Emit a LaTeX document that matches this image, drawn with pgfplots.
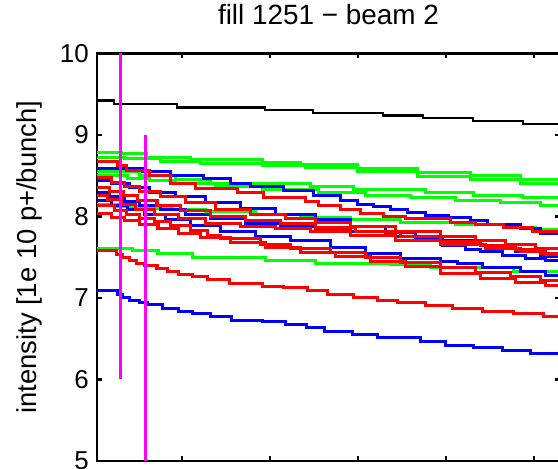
\documentclass[border=0pt]{standalone}
\usepackage{pgfplots}
\pgfplotsset{compat=1.18}
\usepackage{fontspec}
\setmainfont{Liberation Sans}
\definecolor{gG}{RGB}{0,255,0}
\definecolor{bB}{RGB}{0,0,255}
\definecolor{rR}{RGB}{255,0,0}
\definecolor{mM}{RGB}{255,0,255}
\begin{document}
\begin{tikzpicture}
\begin{axis}[
  scale only axis,
  width=463bp, height=407.5bp,
  xmin=97, xmax=560, ymin=5, ymax=10,
  xtick={182.3,270.3,358.3,446.3,534.3},
  xticklabels={},
  ytick={5,6,7,8,9,10},
  tick align=inside,
  major tick length=5bp,
  every tick/.style={black, line width=2.2bp},
  axis line style={line width=2.2bp},
  /pgf/number format/assume math mode=true,
  yticklabel style={font=\fontsize{26}{30}\selectfont, inner sep=0pt, xshift=-8bp},
  title={fill 1251 − beam 2},
  title style={font=\fontsize{28}{32}\selectfont, at={(axis description cs:0.5,1.0577)}, anchor=base, inner sep=0pt},
  ylabel={intensity [1e 10 p+/bunch]},
  ylabel style={font=\fontsize{27.5}{32}\selectfont, at={(axis description cs:-0.1296,0.5)}, anchor=base, inner sep=0pt},
  every axis plot/.append style={line width=3bp, const plot},
]
% black
\addplot[black, line width=2.6bp] coordinates {(97,9.421)(114,9.380)(177,9.337)(265,9.307)(313,9.270)(383,9.242)(423,9.209)(473,9.172)(523,9.135)(560,9.135)};
% greens
\addplot[gG] coordinates {(97,8.785)(122,8.77)(147,8.73)(190,8.70)(262,8.665)(300,8.644)(357,8.595)(417,8.534)(470,8.497)(520,8.454)(560,8.454)};
\addplot[gG] coordinates {(97,8.725)(125,8.71)(160,8.68)(200,8.655)(262,8.625)(305,8.60)(357,8.546)(417,8.485)(470,8.448)(520,8.405)(560,8.405)};
\addplot[gG] coordinates {(97,8.546)(140,8.497)(175,8.448)(210,8.411)(310,8.374)(353,8.331)(425,8.294)(473,8.258)(522,8.227)(560,8.227)};
\addplot[gG] coordinates {(97,8.50)(128,8.47)(150,8.44)(175,8.41)(215,8.37)(262,8.33)(318,8.29)(365,8.26)(410,8.23)(455,8.20)(500,8.17)(540,8.13)(560,8.13)};
\addplot[gG] coordinates {(97,8.15)(118,8.12)(140,8.10)(172,8.08)(205,8.06)(255,8.03)(300,7.99)(350,7.96)(400,7.93)(455,7.90)(505,7.87)(535,7.84)(560,7.84)};
\addplot[gG] coordinates {(97,7.607)(133,7.577)(158,7.540)(192,7.503)(265,7.466)(315,7.423)(390,7.405)(430,7.37)(513,7.331)(560,7.331)};
% blues
\addplot[bB] coordinates {(97,8.595)(143,8.558)(170,8.509)(203,8.472)(230,8.411)(250,8.374)(283,8.313)(313,8.252)(340,8.202)(357,8.153)(373,8.117)(390,8.080)(407,8.055)(425,8.012)(448,7.982)(470,7.951)(487,7.896)(520,7.847)(540,7.79)(560,7.79)};
\addplot[bB] coordinates {(97,8.44)(112,8.40)(130,8.35)(150,8.30)(175,8.24)(205,8.17)(240,8.10)(275,8.03)(315,7.96)(350,7.88)(385,7.80)(415,7.72)(442,7.65)(465,7.60)(480,7.57)(502,7.52)(525,7.48)(545,7.46)(560,7.46)};
\addplot[bB] coordinates {(97,8.30)(110,8.25)(125,8.19)(140,8.14)(160,8.08)(185,8.02)(210,7.97)(245,7.92)(280,7.88)(315,7.85)(350,7.81)(395,7.76)(440,7.71)(480,7.64)(515,7.57)(540,7.51)(560,7.51)};
\addplot[bB] coordinates {(97,8.20)(112,8.14)(128,8.08)(145,8.02)(165,7.96)(190,7.89)(220,7.82)(255,7.75)(290,7.70)(330,7.62)(365,7.55)(400,7.49)(440,7.45)(457,7.42)(482,7.38)(520,7.33)(545,7.28)(560,7.28)};
\addplot[bB] coordinates {(97,7.086)(118,7.049)(123,7.012)(130,6.975)(140,6.95)(148,6.926)(162,6.877)(178,6.840)(192,6.804)(210,6.767)(231,6.730)(262,6.706)(285,6.669)(306,6.632)(324,6.595)(352,6.558)(377,6.515)(420,6.466)(445,6.423)(473,6.387)(502,6.350)(530,6.319)(560,6.319)};
% reds
\addplot[rR] coordinates {(97,8.669)(118,8.62)(127,8.57)(150,8.50)(170,8.41)(195,8.34)(237,8.30)(263,8.23)(305,8.18)(318,8.14)(340,8.09)(360,8.04)(383,8.00)(405,7.97)(450,7.93)(475,7.90)(503,7.86)(532,7.82)(560,7.82)};
\addplot[rR] coordinates {(97,8.48)(112,8.42)(125,8.37)(140,8.31)(160,8.24)(185,8.17)(215,8.09)(250,8.02)(285,7.97)(315,7.93)(350,7.88)(395,7.82)(440,7.76)(475,7.71)(505,7.66)(535,7.61)(560,7.61)};
\addplot[rR] coordinates {(97,8.36)(110,8.31)(124,8.26)(138,8.20)(157,8.14)(180,8.07)(210,8.00)(245,7.95)(280,7.91)(315,7.87)(355,7.81)(400,7.75)(440,7.69)(480,7.64)(515,7.59)(540,7.55)(560,7.55)};
\addplot[rR] coordinates {(97,8.26)(108,8.21)(122,8.15)(136,8.09)(155,8.03)(178,7.97)(205,7.92)(240,7.88)(275,7.85)(310,7.82)(350,7.77)(395,7.71)(440,7.66)(485,7.61)(520,7.57)(545,7.53)(560,7.53)};
\addplot[rR] coordinates {(97,8.13)(115,8.07)(127,8.02)(140,7.98)(155,7.94)(170,7.89)(190,7.83)(207,7.77)(220,7.73)(260,7.66)(290,7.61)(330,7.56)(365,7.50)(400,7.44)(440,7.37)(475,7.31)(510,7.26)(540,7.21)(560,7.21)};
\addplot[rR] coordinates {(97,8.04)(112,7.99)(125,7.95)(140,7.90)(158,7.85)(178,7.79)(200,7.74)(230,7.68)(265,7.62)(300,7.56)(335,7.51)(370,7.45)(405,7.39)(440,7.30)(480,7.24)(515,7.19)(545,7.15)(560,7.15)};
\addplot[rR] coordinates {(97,7.577)(117,7.528)(123,7.497)(130,7.466)(137,7.429)(145,7.399)(157,7.368)(167,7.331)(178,7.294)(192,7.258)(207,7.221)(229,7.184)(262,7.147)(283,7.123)(307,7.086)(327,7.049)(353,7.012)(377,6.975)(397,6.939)(425,6.914)(452,6.877)(482,6.840)(513,6.804)(543,6.767)(560,6.767)};
% magenta markers
\addplot[mM, line width=2.8bp, sharp plot] coordinates {(120.5,6)(120.5,10)};
\addplot[mM, line width=2.8bp, sharp plot] coordinates {(145.3,5)(145.3,9)};
\coordinate (sw) at (rel axis cs:0,0);
\end{axis}
\pgfresetboundingbox
\useasboundingbox (sw) ++(-97bp,-8bp) rectangle ++(558bp,469bp);
\end{tikzpicture}
\end{document}
